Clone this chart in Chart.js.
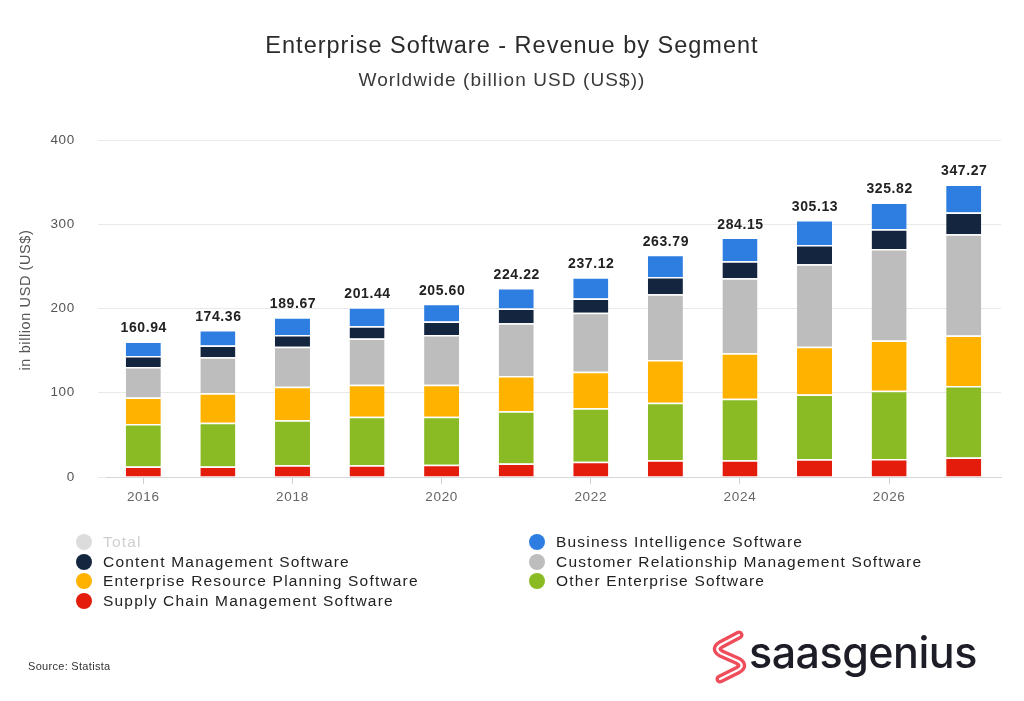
<!DOCTYPE html>
<html>
<head>
<meta charset="utf-8">
<script src="https://cdn.jsdelivr.net/npm/chart.js@4.4.1/dist/chart.umd.min.js"></script>
<style>
  html, body { margin: 0; padding: 0; background: #fff; }
  body { width: 1024px; height: 701px; position: relative; overflow: hidden; font-family: "Liberation Sans", Arial, sans-serif; }
  #wrap { position: absolute; left: 0; top: 0; width: 1024px; height: 701px; }
  .ttl { position: absolute; left: 0; width: 1024px; text-align: center; white-space: nowrap; }
  #title { top: 32px; font-size: 23.5px; line-height: 27px; color: #2b2b2b; letter-spacing: 1.0px; }
  #subtitle { top: 68px; font-size: 19px; line-height: 23px; color: #3a3a3a; letter-spacing: 1.1px; margin-left: -10px; }
  #legend { position: absolute; left: 0; top: 0; width: 1024px; height: 701px; pointer-events: none; }
  .li { position: absolute; height: 20px; line-height: 20px; font-size: 15.5px; color: #222; letter-spacing: 1.2px; white-space: nowrap; }
  .li .dot { position: absolute; left: -27px; top: 2px; width: 16px; height: 16px; border-radius: 50%; }
  #source { position: absolute; left: 28px; top: 660px; font-size: 11px; color: #333; letter-spacing: 0.3px; }
  #logo { position: absolute; left: 711px; top: 628px; height: 56px; }
  #logo svg { position: absolute; left: 0; top: 2px; }
  #logo span { position: absolute; left: 38px; top: -2px; font-family: Inter, "Noto Sans", sans-serif; font-size: 43px; font-weight: 500; color: #1d1d27; letter-spacing: -0.5px; white-space: nowrap; }
</style>
</head>
<body>
<div id="wrap"><canvas id="c" width="1024" height="701"></canvas></div>
<div id="title" class="ttl">Enterprise Software - Revenue by Segment</div>
<div id="subtitle" class="ttl">Worldwide (billion USD (US$))</div>
<div id="legend"></div>
<div id="source">Source: Statista</div>
<div id="logo">
  <svg width="38" height="54" viewBox="0 0 38 54">
    <path d="M28 5 L10 14.5 Q2.5 19 10 23.5 L27 31 Q34.5 35.5 27 40 L9 49" fill="none" stroke="#f04d5b" stroke-width="9" stroke-linecap="round" stroke-linejoin="round"/>
    <path d="M28 5 L10 14.5 Q2.5 19 10 23.5 L27 31 Q34.5 35.5 27 40 L9 49" fill="none" stroke="#ffffff" stroke-width="2.2" stroke-linecap="round" stroke-linejoin="round"/>
  </svg>
  <span>saasgenius</span>
</div>
<script>
// ---- data ----
const years = ['2016','2017','2018','2019','2020','2021','2022','2023','2024','2025','2026','2027'];
const supplyChain = [12.5, 12.5, 14, 14, 14.5, 16, 18, 20, 20, 21, 21.5, 23];
const otherEnterprise = [50.5, 52, 53.5, 57.5, 57, 62, 63.5, 68, 73, 77, 81, 85];
const erp = [31.5, 35, 39.5, 38, 38, 42, 43.5, 51, 54, 56.5, 59.5, 60];
const crm = [36, 42.5, 47.5, 55, 59, 62.5, 70, 78, 89, 98, 108.5, 120];
const contentMgmt = [13, 14, 14, 14.5, 16, 17.5, 17, 20.5, 20, 23, 23.5, 26];
const businessIntel = [17.44, 18.36, 21.17, 22.44, 21.1, 24.22, 25.12, 26.29, 28.15, 29.63, 31.82, 33.27];
const totals = [160.94, 174.36, 189.67, 201.44, 205.60, 224.22, 237.12, 263.79, 284.15, 305.13, 325.82, 347.27];
const yTicks = [0, 100, 200, 300, 400];
const yTitle = 'in billion USD (US$)';

const C = {
  bi: '#2e7de0', cms: '#14253f', crm: '#bdbdbd', erp: '#ffb300', other: '#8bbb24', scm: '#e31c0c', total: '#dcdcdc'
};

// ---- legend (HTML, two columns) ----
const legendItems = [
  { name: 'Total', color: C.total, col: 0, row: 0, muted: true },
  { name: 'Content Management Software', color: C.cms, col: 0, row: 1 },
  { name: 'Enterprise Resource Planning Software', color: C.erp, col: 0, row: 2 },
  { name: 'Supply Chain Management Software', color: C.scm, col: 0, row: 3 },
  { name: 'Business Intelligence Software', color: C.bi, col: 1, row: 0 },
  { name: 'Customer Relationship Management Software', color: C.crm, col: 1, row: 1 },
  { name: 'Other Enterprise Software', color: C.other, col: 1, row: 2 }
];
const lg = document.getElementById('legend');
legendItems.forEach(it => {
  const d = document.createElement('div');
  d.className = 'li';
  d.style.left = (it.col === 0 ? 103 : 556) + 'px';
  d.style.top = (532 + it.row * 19.7) + 'px';
  if (it.muted) d.style.color = '#cfcfcf';
  d.innerHTML = '<span class="dot" style="background:' + it.color + '"></span>' + it.name;
  lg.appendChild(d);
});

// ---- letter spacing for all canvas text ----
const spacing = {
  id: 'spacing',
  beforeDraw(chart) { if ('letterSpacing' in chart.ctx) chart.ctx.letterSpacing = '0.7px'; }
};

// ---- rotated y title ----
const yTitlePlugin = {
  id: 'yTitlePlugin',
  afterDraw(chart) {
    const ctx = chart.ctx;
    ctx.save();
    ctx.translate(26, 300);
    ctx.rotate(-Math.PI / 2);
    ctx.font = '14.5px "Liberation Sans", Arial, sans-serif';
    if ('letterSpacing' in ctx) ctx.letterSpacing = '0.6px';
    ctx.fillStyle = '#555';
    ctx.textAlign = 'center';
    ctx.textBaseline = 'middle';
    ctx.fillText(yTitle, 0, 0);
    ctx.restore();
  }
};

// ---- total labels plugin ----
const totalLabels = {
  id: 'totalLabels',
  afterDatasetsDraw(chart) {
    const ctx = chart.ctx;
    const yScale = chart.scales.y;
    const xScale = chart.scales.x;
    ctx.save();
    ctx.font = 'bold 14px "Liberation Sans", Arial, sans-serif';
    if ('letterSpacing' in ctx) ctx.letterSpacing = '0.6px';
    ctx.fillStyle = '#222';
    ctx.textAlign = 'center';
    ctx.textBaseline = 'alphabetic';
    totals.forEach((t, i) => {
      const x = xScale.getPixelForValue(i);
      const y = yScale.getPixelForValue(t);
      ctx.fillText(t.toFixed(2), x + 0.5, y - 9);
    });
    ctx.restore();
  }
};

const mk = (label, data, color) => ({
  label, data, backgroundColor: color, borderColor: '#ffffff', borderWidth: { top: 1.5, bottom: 0, left: 0, right: 0 }, borderSkipped: false,
  barPercentage: 0.47, categoryPercentage: 1.0, stack: 's'
});

new Chart(document.getElementById('c'), {
  type: 'bar',
  data: {
    labels: years,
    datasets: [
      mk('Supply Chain Management Software', supplyChain, C.scm),
      mk('Other Enterprise Software', otherEnterprise, C.other),
      mk('Enterprise Resource Planning Software', erp, C.erp),
      mk('Customer Relationship Management Software', crm, C.crm),
      mk('Content Management Software', contentMgmt, C.cms),
      mk('Business Intelligence Software', businessIntel, C.bi)
    ]
  },
  options: {
    responsive: false,
    animation: false,
    devicePixelRatio: 1,
    layout: { padding: { left: 0, right: 23, top: 140, bottom: 194 } },
    plugins: {
      legend: { display: false },
      tooltip: { enabled: false },
      title: { display: false },
      subtitle: { display: false }
    },
    scales: {
      x: {
        stacked: true,
        afterFit(s) { s.height = 30; },
        border: { display: true, color: '#d6d6d6', width: 1 },
        grid: {
          display: true, drawOnChartArea: false, drawTicks: true, offset: false, tickLength: 7,
          tickColor: (c) => (c.index % 2 === 0 ? '#cfcfcf' : 'rgba(0,0,0,0)')
        },
        ticks: {
          autoSkip: false, maxRotation: 0, padding: 5, color: '#666',
          font: { size: 13.5, family: '"Liberation Sans", Arial, sans-serif' },
          callback: (v, i) => (i % 2 === 0 ? years[i] : '')
        }
      },
      y: {
        stacked: true,
        min: 0, max: 400,
        afterFit(s) { s.width = 106; },
        afterBuildTicks(s) { s.ticks = yTicks.map(v => ({ value: v })); },
        border: { display: false },
        grid: { color: '#e9e9e9', lineWidth: 1, drawTicks: true, tickLength: 8, tickColor: '#e9e9e9' },
        ticks: { padding: 23, color: '#555', font: { size: 13.5, family: '"Liberation Sans", Arial, sans-serif' } },
        title: { display: false }
      }
    }
  },
  plugins: [spacing, totalLabels, yTitlePlugin]
});
</script>
</body>
</html>
